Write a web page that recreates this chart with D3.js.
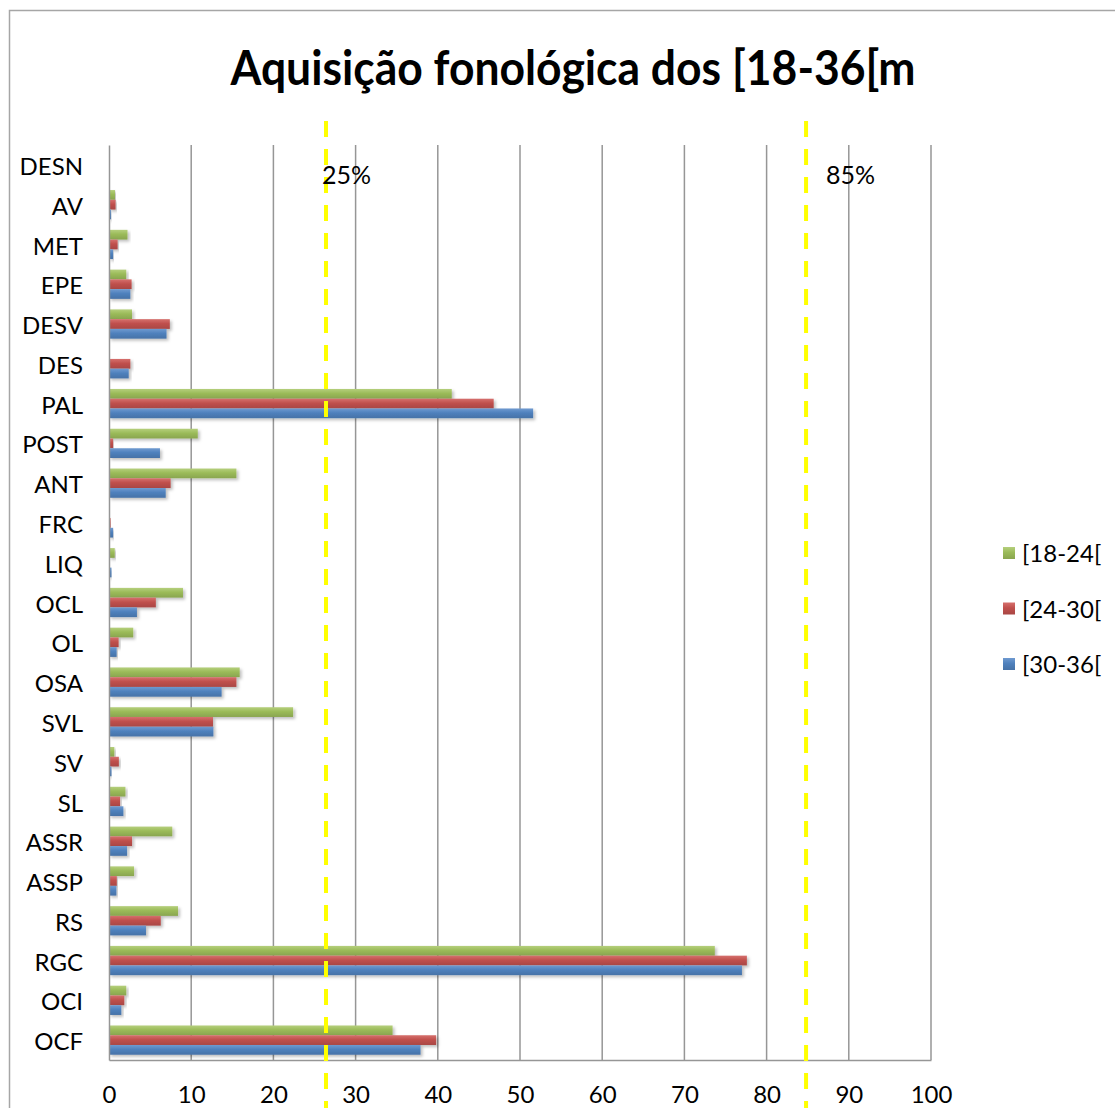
<!DOCTYPE html>
<html>
<head>
<meta charset="utf-8">
<script src="https://cdn.jsdelivr.net/npm/d3@7"></script>
<style>
  html, body { margin: 0; padding: 0; background: #fff; }
  svg { display: block; font-family: Lato, "Open Sans", sans-serif; }
</style>
</head>
<body>
<svg id="chart" width="1115" height="1108"></svg>
<script>
// ---- data ----
const categories = ["DESN","AV","MET","EPE","DESV","DES","PAL","POST","ANT","FRC","LIQ","OCL","OL","OSA","SVL","SV","SL","ASSR","ASSP","RS","RGC","OCI","OCF"];
const seriesNames = ["[18-24[", "[24-30[", "[30-36["];
const s18_24 = [0, 0.73, 2.25, 2.1, 2.8, 0, 41.7, 10.8, 15.5, 0, 0.7, 9.0, 2.95, 15.9, 22.4, 0.65, 2.0, 7.7, 3.05, 8.4, 73.7, 2.1, 34.5];
const s24_30 = [0, 0.8, 1.05, 2.75, 7.4, 2.6, 46.8, 0.5, 7.5, 0.2, 0.1, 5.7, 1.17, 15.5, 12.65, 1.2, 1.35, 2.8, 0.95, 6.3, 77.6, 1.86, 39.8];
const s30_36 = [0, 0.25, 0.5, 2.6, 7.0, 2.4, 51.6, 6.2, 6.9, 0.5, 0.3, 3.4, 0.93, 13.7, 12.7, 0.3, 1.75, 2.2, 0.9, 4.5, 77.0, 1.5, 37.9];
const xTicks = [0,10,20,30,40,50,60,70,80,90,100];
const thresholdLabels = ["25%", "85%"];
const thresholdValues = [26.4, 84.8];
const title = "Aquisição fonológica dos [18-36[m";

const seriesValues = [s18_24, s24_30, s30_36];
const colors = ["#9BBB59", "#C0504D", "#4F81BD"];
const lightColors = ["#b5cf7c", "#d6706d", "#6f9ad0"];

// ---- layout ----
const svg = d3.select("#chart");
const W = 1115, H = 1108;
const plot = {left: 109, right: 931, top: 145, bottom: 1060};

// outer border
svg.append("rect").attr("x", 9.5).attr("y", 10.5).attr("width", W).attr("height", H)
  .attr("fill", "#fff").attr("stroke", "#a6a6a6").attr("stroke-width", 1.5);

const defs = svg.append("defs");
colors.forEach((c, i) => {
  const g = defs.append("linearGradient").attr("id", "grad" + i)
    .attr("x1", 0).attr("y1", 0).attr("x2", 0).attr("y2", 1);
  g.append("stop").attr("offset", "0%").attr("stop-color", lightColors[i]);
  g.append("stop").attr("offset", "45%").attr("stop-color", c);
  g.append("stop").attr("offset", "100%").attr("stop-color", d3.color(c).darker(0.35));
});
const f = defs.append("filter").attr("id", "shadow").attr("x", "-5%").attr("y", "-50%").attr("width", "120%").attr("height", "250%");
f.append("feDropShadow").attr("dx", 2).attr("dy", 2).attr("stdDeviation", 1.8)
  .attr("flood-color", "#000").attr("flood-opacity", 0.25);

const x = d3.scaleLinear().domain([0, 100]).range([plot.left, plot.right]);
const y = d3.scaleBand().domain(categories).range([plot.top, plot.bottom]).paddingInner(0).paddingOuter(0);
const yInner = d3.scaleBand().domain(d3.range(seriesNames.length)).range([0, y.bandwidth()]).paddingOuter(0.54).paddingInner(0);

// title
svg.append("text").attr("x", 573).attr("y", 85).attr("text-anchor", "middle")
  .attr("font-size", 48).attr("font-weight", "bold").attr("fill", "#000")
  .attr("textLength", 685).attr("lengthAdjust", "spacingAndGlyphs")
  .text(title);

// gridlines
svg.append("g").selectAll("line").data(xTicks.slice(1)).join("line")
  .attr("x1", d => x(d)).attr("x2", d => x(d))
  .attr("y1", plot.top).attr("y2", plot.bottom)
  .attr("stroke", "#969696").attr("stroke-width", 1.5);

// bars
const rows = categories.map((c, i) => ({cat: c, vals: seriesValues.map(s => s[i])}));
const gRow = svg.append("g").selectAll("g").data(rows).join("g")
  .attr("transform", d => `translate(0,${y(d.cat)})`);
gRow.selectAll("rect").data(d => d.vals.map((v, k) => ({v, k})).filter(e => e.v > 0)).join("rect")
  .attr("x", x(0))
  .attr("y", d => yInner(d.k))
  .attr("width", d => x(d.v) - x(0))
  .attr("height", yInner.bandwidth())
  .attr("fill", d => `url(#grad${d.k})`)
  .attr("filter", "url(#shadow)");

// axes
const xAxis = d3.axisBottom(x).tickValues(xTicks).tickSize(0).tickPadding(26);
const gx = svg.append("g").attr("transform", `translate(0,${plot.bottom})`).call(xAxis);
gx.select(".domain").attr("stroke", "#969696").attr("stroke-width", 1.5);
gx.selectAll("text").attr("font-size", 24).attr("fill", "#000").attr("font-family", "Lato, sans-serif");

const yAxis = d3.axisLeft(y).tickSize(0).tickPadding(26);
const gy = svg.append("g").attr("transform", `translate(${plot.left},0)`).call(yAxis);
gy.select(".domain").attr("stroke", "#969696").attr("stroke-width", 1.5);
gy.selectAll("text").attr("font-size", 24).attr("dy", "0.42em").attr("fill", "#000").attr("font-family", "Lato, sans-serif");

// threshold dashed lines
const thr = thresholdValues.map((v, i) => ({v, label: thresholdLabels[i], dx: i === 0 ? -4 : 20}));
svg.append("g").selectAll("line").data(thr).join("line")
  .attr("x1", d => x(d.v)).attr("x2", d => x(d.v))
  .attr("y1", 121).attr("y2", H)
  .attr("stroke", "#FFFF00").attr("stroke-width", 4)
  .attr("stroke-dasharray", "16,12");
svg.append("g").selectAll("text").data(thr).join("text")
  .attr("x", d => x(d.v) + d.dx).attr("y", 184)
  .attr("font-size", 25).attr("fill", "#000")
  .text(d => d.label);

// legend
const lg = svg.append("g").selectAll("g").data(seriesNames).join("g")
  .attr("transform", (d, i) => `translate(1003,${553 + i * 55.5})`);
lg.append("rect").attr("x", 0).attr("y", -6).attr("width", 12).attr("height", 12)
  .attr("fill", (d, i) => `url(#grad${i})`);
lg.append("text").attr("x", 19).attr("y", 9).attr("font-size", 24).attr("fill", "#000").text(d => d);
</script>
</body>
</html>
